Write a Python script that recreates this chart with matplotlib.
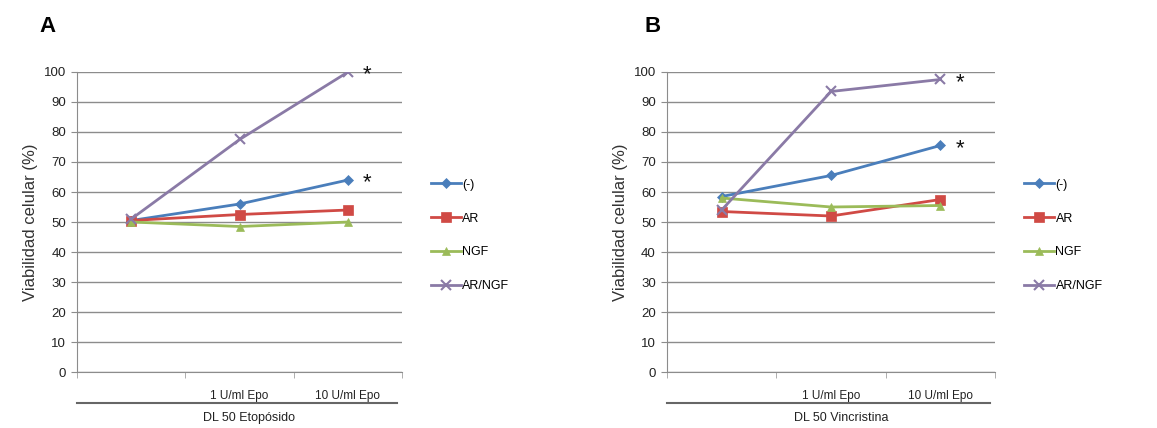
import numpy as np
import matplotlib
matplotlib.use("Agg")
import matplotlib.pyplot as plt

plt.rcParams['font.family'] = ['Liberation Sans', 'DejaVu Sans']

categories = ['', '1 U/ml Epo', '10 U/ml Epo']
series_names = ['(-)', 'AR', 'NGF', 'AR/NGF']

# panel A - DL 50 Etopósido
etop_neg = [50.5, 56.0, 64.0]
etop_ar = [50.5, 52.5, 54.0]
etop_ngf = [50.0, 48.5, 50.0]
etop_arngf = [51.0, 77.5, 100.0]

# panel B - DL 50 Vincristina
vinc_neg = [58.5, 65.5, 75.5]
vinc_ar = [53.5, 52.0, 57.5]
vinc_ngf = [58.0, 55.0, 55.5]
vinc_arngf = [54.0, 93.5, 97.5]

yticks = list(range(0, 101, 10))

colors = ['#4A7EBB', '#D04A45', '#9BBB59', '#8A7AA6']
markers = ['D', 's', '^', 'x']
msizes = [5.5, 7.5, 6, 7]


def panel(ax, data, group_label, letter, letter_x, starred):
    x = np.arange(len(categories))
    for vals, name, c, m, ms in zip(data, series_names, colors, markers, msizes):
        ax.plot(x, vals, color=c, marker=m, markersize=ms, lw=2, label=name,
                markeredgewidth=1.5 if m == 'x' else 0.5, markeredgecolor=c)
    for idx in starred:
        ax.annotate('*', xy=(x[-1], data[idx][-1]), xytext=(14, -2),
                    textcoords='offset points', fontsize=16, color='#111111',
                    ha='center', va='center')
    ax.set_xlim(-0.5, len(categories) - 0.5)
    ax.set_ylim(0, 100)
    ax.set_yticks(yticks)
    ax.grid(axis='y', color='#8C8C8C', lw=1)
    ax.set_axisbelow(True)
    for s in ['top', 'right']:
        ax.spines[s].set_visible(False)
    ax.spines['left'].set_color('#8C8C8C')
    ax.spines['bottom'].set_color('#8C8C8C')
    ax.tick_params(axis='y', colors='#8C8C8C', labelcolor='#222222',
                   labelsize=9.5, length=4, pad=4)
    ax.set_xticks(x)
    ax.set_xticklabels(categories, fontsize=8.5, color='#222222')
    ax.set_xticks(np.arange(len(categories) + 1) - 0.5, minor=True)
    ax.tick_params(axis='x', which='major', length=0, pad=13)
    ax.tick_params(axis='x', which='minor', length=4, color='#A0A0A0')
    ax.set_ylabel('Viabilidad celular (%)', fontsize=12, color='#333333', labelpad=4)
    ax.plot([0, 0.985], [-0.103, -0.103], transform=ax.transAxes,
            color='#666666', lw=1.5, clip_on=False)
    ax.text(0.53, -0.152, group_label, transform=ax.transAxes, ha='center',
            va='center', fontsize=9, color='#222222')
    ax.text(letter_x, 1.15, letter, transform=ax.transAxes, ha='center',
            va='center', fontsize=16, fontweight='bold')
    ax.legend(loc='center left', bbox_to_anchor=(1.07, 0.455), frameon=False,
              fontsize=9, labelspacing=1.75, handlelength=2.4,
              handletextpad=0.1, borderpad=0)


fig = plt.figure(figsize=(11.57, 4.28), dpi=100)
axA = fig.add_axes([0.0666, 0.1308, 0.281, 0.701])
axB = fig.add_axes([0.5765, 0.1308, 0.2835, 0.701])

panel(axA, [etop_neg, etop_ar, etop_ngf, etop_arngf], 'DL 50 Etopósido', 'A', -0.09, [0, 3])
panel(axB, [vinc_neg, vinc_ar, vinc_ngf, vinc_arngf], 'DL 50 Vincristina', 'B', -0.045, [0, 3])

fig.savefig('out.png', dpi=100)
